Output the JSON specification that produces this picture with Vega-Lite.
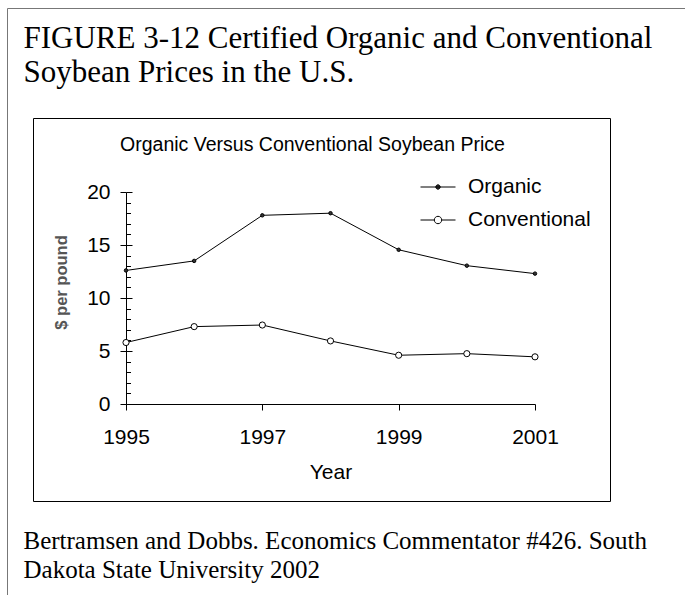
{
  "$schema": "https://vega.github.io/schema/vega-lite/v6.json",
  "autosize": {"type": "none"},
  "padding": {"left": 33, "top": 118, "right": 75, "bottom": 94},
  "width": 577,
  "height": 383,
  "background": "white",
  "config": {
    "font": "Liberation Sans",
    "view": {"stroke": "black", "strokeWidth": 1}
  },
  "data": {
    "values": [
      {"year": 1995, "series": "Organic", "value": 12.6},
      {"year": 1996, "series": "Organic", "value": 13.5},
      {"year": 1997, "series": "Organic", "value": 17.8},
      {"year": 1998, "series": "Organic", "value": 18.0},
      {"year": 1999, "series": "Organic", "value": 14.55},
      {"year": 2000, "series": "Organic", "value": 13.05},
      {"year": 2001, "series": "Organic", "value": 12.3},
      {"year": 1995, "series": "Conventional", "value": 5.8},
      {"year": 1996, "series": "Conventional", "value": 7.3},
      {"year": 1997, "series": "Conventional", "value": 7.45},
      {"year": 1998, "series": "Conventional", "value": 5.95},
      {"year": 1999, "series": "Conventional", "value": 4.6},
      {"year": 2000, "series": "Conventional", "value": 4.75},
      {"year": 2001, "series": "Conventional", "value": 4.45}
    ]
  },
  "layer": [
    {
      "encoding": {
        "x": {
          "field": "year", "type": "quantitative",
          "scale": {"domain": [1995, 2001], "range": [93, 502], "nice": false, "zero": false},
          "axis": {
            "orient": "bottom", "offset": -97,
            "values": [1995, 1997, 1999, 2001], "format": "d", "grid": false,
            "domainColor": "black", "domainWidth": 1,
            "tickColor": "black", "tickSize": 6, "tickWidth": 1,
            "labelFont": "Liberation Sans", "labelFontSize": 21, "labelColor": "black",
            "labelPadding": 16, "labelFlush": false, "labelOverlap": false,
            "title": "Year", "titleFont": "Liberation Sans", "titleFontSize": 21,
            "titleFontWeight": "normal", "titleColor": "black",
            "titleX": 297.5, "titleY": 74, "titleBaseline": "alphabetic", "titleAlign": "center"
          }
        },
        "y": {
          "field": "value", "type": "quantitative",
          "scale": {"domain": [0, 20], "range": [286, 74], "nice": false, "zero": false},
          "axis": {
            "orient": "left", "offset": -93,
            "values": [0, 5, 10, 15, 20], "grid": false,
            "domainColor": "black", "domainWidth": 1,
            "tickColor": "black", "tickSize": 6, "tickWidth": 1,
            "labelFont": "Liberation Sans", "labelFontSize": 21, "labelColor": "black",
            "labelPadding": 10, "labelOverlap": false,
            "title": "$ per pound", "titleFont": "Liberation Sans", "titleFontSize": 16.5,
            "titleFontWeight": "bold", "titleColor": "#555",
            "titleX": -64.5, "titleY": 164, "titleAngle": 270,
            "titleBaseline": "middle", "titleAlign": "center"
          }
        }
      },
      "layer": [
        {
          "mark": {"type": "line", "color": "black", "strokeWidth": 1},
          "encoding": {"detail": {"field": "series"}}
        },
        {
          "mark": {"type": "point", "filled": true, "stroke": "black", "strokeWidth": 1, "opacity": 1, "shape": "circle"},
          "encoding": {
            "fill": {
              "field": "series", "type": "nominal",
              "scale": {"domain": ["Organic", "Conventional"], "range": ["#333333", "#ffffff"]},
              "legend": {
                "title": null, "orient": "none", "legendX": 394.5, "legendY": 58.5,
                "padding": 0, "symbolSize": 100, "labelOffset": 19.5, "rowPadding": 11,
                "labelFont": "Liberation Sans", "labelFontSize": 21, "labelColor": "black",
                "symbolStrokeColor": "black", "symbolStrokeWidth": 1, "symbolOpacity": 1,
                "encode": {
                  "symbols": {
                    "update": {
                      "shape": {"signal": "datum.value === 'Organic' ? 'M-3.5,0H3.5M0.44,0A0.44,0.44,0,1,1,-0.44,0A0.44,0.44,0,1,1,0.44,0Z' : 'M-3.5,0H-0.74M0.74,0H3.5M0.74,0A0.74,0.74,0,1,1,-0.74,0A0.74,0.74,0,1,1,0.74,0Z'"},
                      "stroke": {"value": "black"},
                      "strokeWidth": {"value": 1}
                    }
                  }
                }
              }
            },
            "size": {"condition": {"test": "datum.series === 'Organic'", "value": 12}, "value": 38}
          }
        }
      ]
    },
    {
      "mark": {"type": "point", "opacity": 0},
      "encoding": {
        "x": {
          "field": "year", "type": "quantitative",
          "scale": {"domain": [1995, 2001], "range": [-26, 667], "nice": false, "zero": false},
          "axis": {
            "orient": "top", "offset": 110, "domain": true, "domainColor": "#777", "domainWidth": 1,
            "ticks": false, "labels": false, "grid": false,
            "title": "Organic Versus Conventional Soybean Price",
            "titleFont": "Liberation Sans", "titleFontSize": 19.5, "titleFontWeight": "normal",
            "titleColor": "black", "titleX": 279, "titleY": 142,
            "titleBaseline": "alphabetic", "titleAlign": "center", "titleAngle": 0
          }
        },
        "y": {
          "field": "value", "type": "quantitative",
          "scale": {"domain": [0, 20], "range": [286, 74], "nice": false, "zero": false},
          "axis": {
            "orient": "left", "offset": -93, "domain": false, "labels": false, "grid": false,
            "values": [0, 1, 2, 3, 4, 5, 6, 7, 8, 9, 10, 11, 12, 13, 14, 15, 16, 17, 18, 19, 20],
            "tickColor": "black", "tickWidth": 1,
            "tickSize": {"condition": {"test": "datum.value % 5 === 0", "value": -6}, "value": -4.5},
            "title": ["FIGURE 3-12 Certified Organic and Conventional", "Soybean Prices in the U.S."],
            "titleFont": "Liberation Serif", "titleFontSize": 31, "titleFontWeight": "normal",
            "titleColor": "black", "titleLineHeight": 34,
            "titleX": -103, "titleY": -71, "titleAngle": 0,
            "titleAlign": "left", "titleBaseline": "alphabetic"
          }
        }
      }
    },
    {
      "mark": {"type": "point", "opacity": 0},
      "encoding": {
        "y": {
          "field": "value", "type": "quantitative",
          "scale": {"domain": [0, 20], "range": [492, -110], "nice": false, "zero": false},
          "axis": {
            "orient": "left", "offset": 26, "domain": true, "domainColor": "#777", "domainWidth": 1,
            "ticks": false, "labels": false, "grid": false,
            "title": ["Bertramsen and Dobbs. Economics Commentator #426. South", "Dakota State University 2002"],
            "titleFont": "Liberation Serif", "titleFontSize": 25, "titleFontWeight": "normal",
            "titleColor": "black", "titleLineHeight": 29,
            "titleX": 16, "titleY": 430, "titleAngle": 0,
            "titleAlign": "left", "titleBaseline": "alphabetic"
          }
        }
      }
    }
  ],
  "resolve": {"scale": {"x": "independent", "y": "independent"}}
}
